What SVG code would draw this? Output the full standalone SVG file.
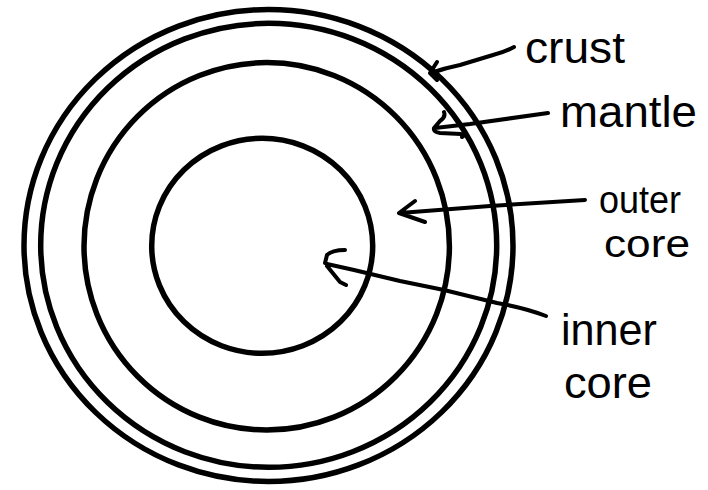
<svg xmlns="http://www.w3.org/2000/svg" width="708" height="490" viewBox="0 0 708 490">
<style>
.ring{fill:none;stroke:#000;stroke-width:5.5}
.lead{fill:none;stroke:#000;stroke-width:4;stroke-linecap:round;stroke-linejoin:round}
.lbl{font-family:"Liberation Sans",Arial,sans-serif;font-size:44px;fill:#000}
.sm{font-size:38px}
</style>
<rect width="708" height="490" fill="#fff"/>
<g id="crust-outer"><ellipse class="ring" cx="268.5" cy="245.5" rx="244.5" ry="236"/></g>
<g id="crust-inner"><ellipse class="ring" cx="268.7" cy="245.3" rx="228" ry="222"/></g>
<g id="mantle"><ellipse class="ring" cx="266.7" cy="246.3" rx="182.7" ry="183.7"/></g>
<g id="inner-core"><ellipse class="ring" cx="262.2" cy="245.8" rx="110.5" ry="107.5"/></g>
<g id="connectors">
<path class="lead" d="M514,47 Q505,52 493,55 L460,65 Q445,68 431,73 M437,62 L430,73 L437,80"/>
<path class="lead" d="M548,113 L470,124 L435,128 M444,112 Q446,117 440,121 L434,128 Q433,132 440,133 L461,134 Q465,136 462,137"/>
<path class="lead" d="M585,200 L490,206 L400,213 M415,201 L399,213 L425,222"/>
<path class="lead" d="M546,316 Q525,308 497,303 L444,290 L400,281 L354,270 L327,264 M345,250 Q332,250 327,255 L325,263 M327,266 L340,282 L346,285"/>
</g>
<g id="label-crust"><text class="lbl" x="525" y="63" textLength="100" lengthAdjust="spacingAndGlyphs">crust</text></g>
<g id="label-mantle"><text class="lbl" x="560" y="127" textLength="137" lengthAdjust="spacingAndGlyphs">mantle</text></g>
<g id="label-outer-core"><text class="lbl sm"><tspan x="599" y="213" textLength="82" lengthAdjust="spacingAndGlyphs">outer</tspan><tspan x="604" y="257" textLength="86" lengthAdjust="spacingAndGlyphs">core</tspan></text></g>
<g id="label-inner-core"><text class="lbl"><tspan x="561" y="345" textLength="96" lengthAdjust="spacingAndGlyphs">inner</tspan><tspan x="564" y="398" textLength="88" lengthAdjust="spacingAndGlyphs">core</tspan></text></g>
</svg>
